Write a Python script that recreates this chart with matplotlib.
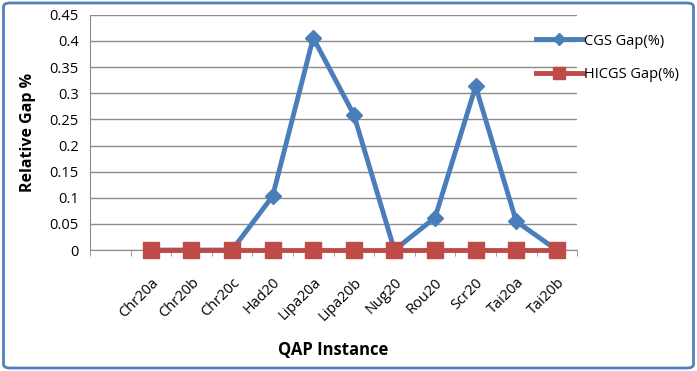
import matplotlib
matplotlib.use("Agg")
import matplotlib.pyplot as plt
from matplotlib.patches import FancyBboxPatch
from matplotlib.ticker import FixedLocator, FuncFormatter

instances = ["Chr20a", "Chr20b", "Chr20c", "Had20", "Lipa20a", "Lipa20b",
             "Nug20", "Rou20", "Scr20", "Tai20a", "Tai20b"]
cgs_gap = [0, 0, 0, 0.103, 0.406, 0.259, 0, 0.062, 0.313, 0.055, 0]
hicgs_gap = [0, 0, 0, 0, 0, 0, 0, 0, 0, 0, 0]
y_ticks = [0, 0.05, 0.1, 0.15, 0.2, 0.25, 0.3, 0.35, 0.4, 0.45]

plt.rcParams["font.family"] = ["Open Sans", "DejaVu Sans"]

fig = plt.figure(figsize=(6.97, 3.71), dpi=100)
ax = fig.add_axes([0.129, 0.326, 0.699, 0.634])

x = list(range(len(instances)))
ax.plot(x, cgs_gap, color="#4A7EBB", lw=3.5, marker="D", ms=8,
        label="CGS Gap(%)", zorder=3, clip_on=False)
ax.plot(x, hicgs_gap, color="#BE4B48", lw=3.5, marker="s", ms=11,
        label="HICGS Gap(%)", zorder=4, clip_on=False)

ax.set_xlim(-1.5, len(instances) - 0.5)
ax.set_ylim(0, 0.45)
ax.set_yticks(y_ticks)
ax.yaxis.set_major_formatter(FuncFormatter(lambda v, p: f"{v:g}"))
ax.grid(axis="y", color="#8C8C8C", lw=1)
ax.set_axisbelow(True)

ax.set_xticks(x)
ax.set_xticklabels(instances, rotation=45, ha="right", rotation_mode="anchor",
                   fontsize=10.5)
ax.xaxis.set_minor_locator(FixedLocator([i - 0.5 for i in range(-1, len(instances) + 1)]))
ax.tick_params(axis="x", which="both", direction="out", length=4, color="#8C8C8C", pad=14)
ax.tick_params(axis="y", length=0, labelsize=10.5, pad=8)

for s in ["top", "right"]:
    ax.spines[s].set_visible(False)
ax.spines["left"].set_color("#8C8C8C")
ax.spines["bottom"].set_color("#8C8C8C")

ax.set_ylabel("Relative Gap %", fontsize=11.5, fontweight="bold", labelpad=10)
ax.set_xlabel("QAP Instance", fontsize=12, fontweight="bold", labelpad=12)

leg = fig.legend(loc="upper left", bbox_to_anchor=(0.75, 0.945), frameon=False,
                 fontsize=10.5, handlelength=3.2, labelspacing=1.3, handletextpad=0.1,
                 markerscale=0.8)

border = FancyBboxPatch((0.005, 0.008), 0.99, 0.984, boxstyle="round,pad=0,rounding_size=0.01",
                        transform=fig.transFigure, fill=False, ec="#4F81BD", lw=2)
fig.patches.append(border)

fig.savefig("out.png", dpi=100)
